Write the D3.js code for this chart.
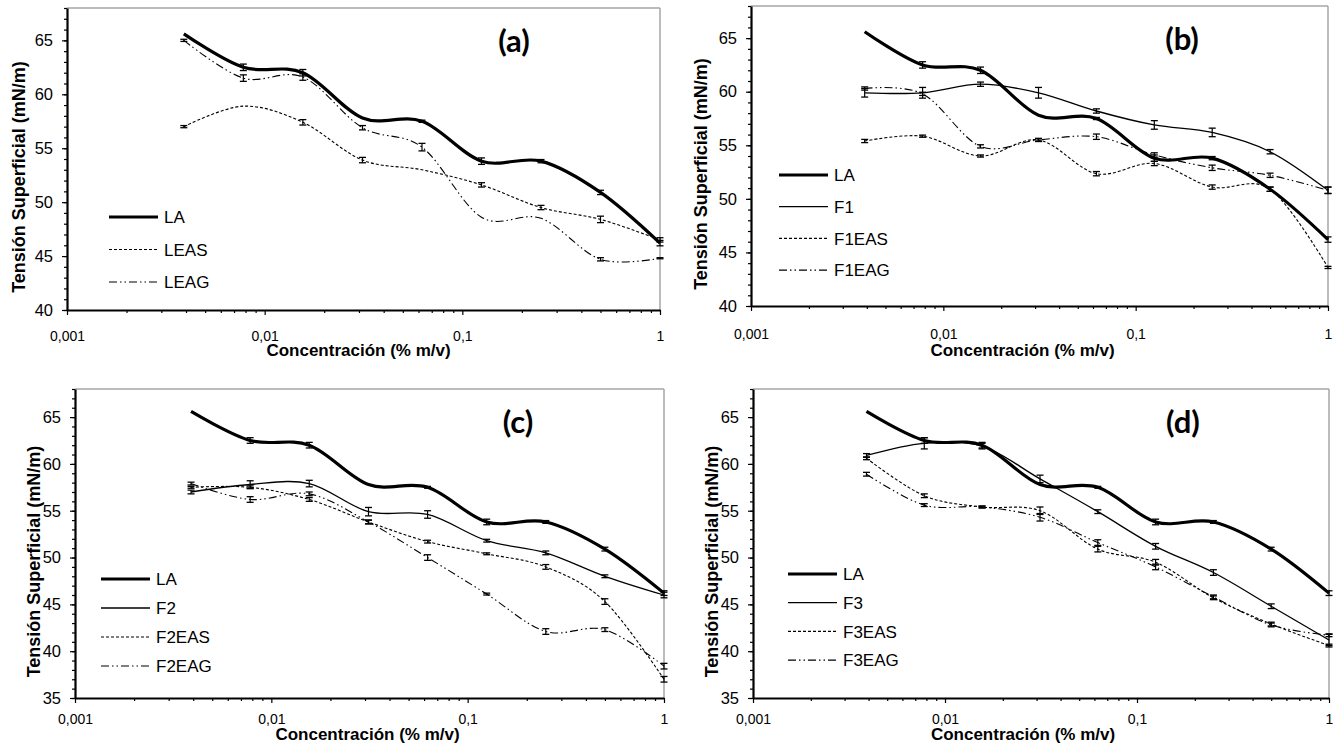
<!DOCTYPE html>
<html>
<head>
<meta charset="utf-8">
<script src="https://cdn.jsdelivr.net/npm/d3@7"></script>
<style>
  body { margin: 0; background: #fff; }
  svg { display: block; font-family: "Liberation Sans", Arial, sans-serif; }
</style>
</head>
<body>
<svg id="chart" width="1333" height="746"></svg>
<script>
// concentrations (% m/v), two-fold dilutions
const concentrations = [0.0039, 0.0078, 0.0156, 0.03125, 0.0625, 0.125, 0.25, 0.5, 1]
const xTickValues = [0.001, 0.01, 0.1, 1]
const xTickLabels = ["0,001", "0,01", "0,1", "1"]

// LA is drawn in every panel
const tensionLA = [65.6, 62.5, 62.0, 57.8, 57.5, 53.8, 53.8, 50.9, 46.2]
const errorLA   = [null, 0.3, 0.3, null, 0.1, 0.3, 0.15, 0.2, 0.25]

// panel (a)
const tensionLEAS = [57.0, 58.9, 57.4, 53.9, 53.0, 51.6, 49.5, 48.4, 46.5]
const errorLEAS   = [0.1, null, 0.25, 0.25, null, 0.2, 0.2, 0.3, 0.2]
const tensionLEAG = [65.0, 61.5, 61.6, 56.9, 55.1, 48.6, 48.5, 44.7, 44.8]
const errorLEAG   = [0.1, 0.3, 0.3, 0.2, 0.35, null, null, 0.15, 0.05]

// panel (b)
const tensionF1    = [59.9, 59.9, 60.7, 59.9, 58.2, 56.9, 56.2, 54.4, 50.8]
const errorF1      = [0.4, 0.5, 0.2, 0.5, 0.2, 0.4, 0.4, 0.2, 0.3]
const tensionF1EAS = [55.4, 55.85, 54.0, 55.5, 52.35, 53.3, 51.1, 50.9, 43.6]
const errorF1EAS   = [0.15, 0.1, 0.1, 0.15, 0.2, 0.2, 0.2, 0.2, 0.1]
const tensionF1EAG = [60.3, 59.8, 54.9, 55.5, 55.8, 54.1, 52.9, 52.2, 50.8]
const errorF1EAG   = [0.15, 0.15, 0.15, 0.1, 0.25, 0.2, 0.25, 0.2, 0.3]

// panel (c)
const tensionF2    = [57.0, 57.8, 57.9, 54.9, 54.6, 51.8, 50.5, 48.0, 46.0]
const errorF2      = [0.2, 0.4, 0.35, 0.45, 0.4, 0.15, 0.2, 0.15, 0.3]
const tensionF2EAS = [57.5, 57.5, 56.2, 53.8, 51.7, 50.4, 49.0, 45.3, 37.0]
const errorF2EAS   = [0.1, 0.15, 0.2, 0.2, 0.15, 0.1, 0.25, 0.3, 0.3]
const tensionF2EAG = [57.9, 56.2, 56.8, 53.8, 50.0, 46.1, 42.1, 42.3, 38.4]
const errorF2EAG   = [0.15, 0.3, 0.2, 0.2, 0.3, 0.1, 0.3, 0.2, 0.3]

// panel (d)
const tensionF3    = [60.9, 62.2, 61.9, 58.4, 54.9, 51.2, 48.4, 44.8, 41.2]
const errorF3      = [0.2, 0.6, 0.3, 0.4, 0.2, 0.3, 0.3, 0.25, 0.6]
const tensionF3EAS = [60.6, 56.6, 55.4, 55.0, 50.9, 49.5, 45.7, 42.9, 40.6]
const errorF3EAS   = [0.15, 0.2, 0.1, 0.4, 0.3, 0.3, 0.2, 0.2, 0.15]
const tensionF3EAG = [58.9, 55.6, 55.4, 54.3, 51.6, 49.0, 45.8, 42.8, 41.7]
const errorF3EAG   = [0.2, 0.15, 0.1, 0.4, 0.3, 0.3, 0.2, 0.2, 0.15]

const yTitle = "Tensión Superficial (mN/m)"
const xTitle = "Concentración (% m/v)"

// line styles by series kind
const styles = {
  la:  {width: 3.2, dash: null},
  f:   {width: 1.3, dash: null},
  eas: {width: 1.1, dash: "3,2"},
  eag: {width: 1.1, dash: "8,3,1.5,3,1.5,3"}
}

function series(name, kind, values, errors) {
  return {name, kind, values, errors}
}

const panels = [
  {tag: "(a)", left: 67, top: 8, right: 660, bottom: 310, yMin: 40,
   legend: {x: 109, y: 217, step: 32.5}, yTitleDx: -48, xTitleDx: -5, xTitleDy: 46, xLabelDy: 21,
   series: [series("LA", "la", tensionLA, errorLA),
            series("LEAS", "eas", tensionLEAS, errorLEAS),
            series("LEAG", "eag", tensionLEAG, errorLEAG)]},
  {tag: "(b)", left: 751, top: 6, right: 1328, bottom: 306, yMin: 40,
   legend: {x: 779, y: 175, step: 31.7}, yTitleDx: -50, xTitleDx: -17, xTitleDy: 50, xLabelDy: 23,
   series: [series("LA", "la", tensionLA, errorLA),
            series("F1", "f", tensionF1, errorF1),
            series("F1EAS", "eas", tensionF1EAS, errorF1EAS),
            series("F1EAG", "eag", tensionF1EAG, errorF1EAG)]},
  {tag: "(c)", left: 75, top: 389, right: 664, bottom: 698, yMin: 35,
   legend: {x: 101, y: 579, step: 29}, yTitleDx: -41, xTitleDx: -2, xTitleDy: 42, xLabelDy: 16,
   series: [series("LA", "la", tensionLA, errorLA),
            series("F2", "f", tensionF2, errorF2),
            series("F2EAS", "eas", tensionF2EAS, errorF2EAS),
            series("F2EAG", "eag", tensionF2EAG, errorF2EAG)]},
  {tag: "(d)", left: 753, top: 389, right: 1329, bottom: 698, yMin: 35,
   legend: {x: 788, y: 574, step: 28.7}, yTitleDx: -41, xTitleDx: -18, xTitleDy: 42, xLabelDy: 16,
   series: [series("LA", "la", tensionLA, errorLA),
            series("F3", "f", tensionF3, errorF3),
            series("F3EAS", "eas", tensionF3EAS, errorF3EAS),
            series("F3EAG", "eag", tensionF3EAG, errorF3EAG)]}
]

const svg = d3.select("#chart")
svg.append("rect").attr("width", 1333).attr("height", 746).attr("fill", "#fff")

function drawPanel(p) {
  const g = svg.append("g")

  const x = d3.scaleLog().domain([0.001, 1]).range([p.left, p.right])
  const y = d3.scaleLinear().domain([p.yMin, 68]).range([p.bottom, p.top])

  // gray frame on top and right
  g.append("line")
    .attr("x1", p.left).attr("x2", p.right).attr("y1", p.top).attr("y2", p.top)
    .attr("stroke", "#a6a6a6").attr("stroke-width", 1.5)
  g.append("line")
    .attr("x1", p.right).attr("x2", p.right).attr("y1", p.top).attr("y2", p.bottom)
    .attr("stroke", "#a6a6a6").attr("stroke-width", 1.5)

  // minor ticks
  const xMinor = []
  ;[0.001, 0.01, 0.1].forEach(d => { for (let k = 2; k <= 9; k++) xMinor.push(d * k) })
  const yMinor = d3.range(p.yMin, 68.5, 1)

  g.append("g")
    .attr("transform", "translate(0," + p.bottom + ")")
    .call(d3.axisBottom(x).tickValues(xMinor).tickFormat("").tickSize(3).tickSizeOuter(0))
    .call(a => a.select(".domain").remove())
  g.append("g")
    .attr("transform", "translate(" + p.left + ",0)")
    .call(d3.axisLeft(y).tickValues(yMinor).tickFormat("").tickSize(3).tickSizeOuter(0))
    .call(a => a.select(".domain").remove())

  // major ticks + labels
  const xAxis = g.append("g")
    .attr("transform", "translate(0," + p.bottom + ")")
    .call(d3.axisBottom(x).tickValues(xTickValues)
      .tickFormat((d, i) => xTickLabels[i])
      .tickSize(5).tickSizeOuter(0).tickPadding(p.xLabelDy - 5))
  xAxis.selectAll("text").attr("font-size", 14).attr("font-family", "Liberation Sans, Arial, sans-serif")

  const yAxis = g.append("g")
    .attr("transform", "translate(" + p.left + ",0)")
    .call(d3.axisLeft(y).tickValues(d3.range(p.yMin, 66, 5))
      .tickSize(5).tickSizeOuter(0).tickPadding(9))
  yAxis.selectAll("text").attr("font-size", 16.5).attr("font-family", "Liberation Sans, Arial, sans-serif")

  g.selectAll(".tick line").attr("stroke", "#000").attr("stroke-width", 1.2)
  g.selectAll(".domain").attr("stroke", "#000").attr("stroke-width", 2.2)

  // series lines
  const line = d3.line()
    .x(d => x(d[0]))
    .y(d => y(d[1]))
    .curve(d3.curveCardinal.tension(0))

  p.series.forEach(s => {
    const st = styles[s.kind]
    const pts = concentrations.map((c, i) => [c, s.values[i], s.errors[i]])
    g.append("path")
      .datum(pts)
      .attr("d", line)
      .attr("fill", "none")
      .attr("stroke", "#000")
      .attr("stroke-width", st.width)
      .attr("stroke-dasharray", st.dash)

    // error bars
    const bars = g.append("g").selectAll("g")
      .data(pts.filter(d => d[2] != null))
      .enter().append("g")
    bars.append("line")
      .attr("x1", d => x(d[0])).attr("x2", d => x(d[0]))
      .attr("y1", d => y(d[1] - d[2])).attr("y2", d => y(d[1] + d[2]))
      .attr("stroke", "#000").attr("stroke-width", 1.2)
    bars.append("line")
      .attr("x1", d => x(d[0]) - 3.5).attr("x2", d => x(d[0]) + 3.5)
      .attr("y1", d => y(d[1] - d[2])).attr("y2", d => y(d[1] - d[2]))
      .attr("stroke", "#000").attr("stroke-width", 1.3)
    bars.append("line")
      .attr("x1", d => x(d[0]) - 3.5).attr("x2", d => x(d[0]) + 3.5)
      .attr("y1", d => y(d[1] + d[2])).attr("y2", d => y(d[1] + d[2]))
      .attr("stroke", "#000").attr("stroke-width", 1.3)
  })

  // legend
  p.series.forEach((s, i) => {
    const st = styles[s.kind]
    const ly = p.legend.y + i * p.legend.step
    g.append("line")
      .attr("x1", p.legend.x).attr("x2", p.legend.x + 49)
      .attr("y1", ly).attr("y2", ly)
      .attr("stroke", "#000")
      .attr("stroke-width", st.width)
      .attr("stroke-dasharray", st.dash)
    g.append("text")
      .attr("x", p.legend.x + 55).attr("y", ly)
      .attr("dy", "0.36em")
      .attr("font-size", 17)
      .text(s.name)
  })

  // axis titles
  g.append("text")
    .attr("x", (p.left + p.right) / 2 + p.xTitleDx)
    .attr("y", p.bottom + p.xTitleDy)
    .attr("text-anchor", "middle")
    .attr("font-size", 17)
    .attr("font-weight", "bold")
    .text(xTitle)

  g.append("text")
    .attr("transform", "translate(" + (p.left + p.yTitleDx + 6) + "," + ((p.top + p.bottom) / 2 + 18) + ") rotate(-90)")
    .attr("text-anchor", "middle")
    .attr("font-size", 18)
    .attr("font-weight", "bold")
    .text(yTitle)

  // panel tag
  g.append("text")
    .attr("x", p.right - 146)
    .attr("y", p.top + 44)
    .attr("text-anchor", "middle")
    .attr("font-family", "Lato, 'Open Sans', sans-serif")
    .attr("font-size", 31)
    .attr("font-weight", "bold")
    .text(p.tag)
}

panels.forEach(drawPanel)
</script>
</body>
</html>
